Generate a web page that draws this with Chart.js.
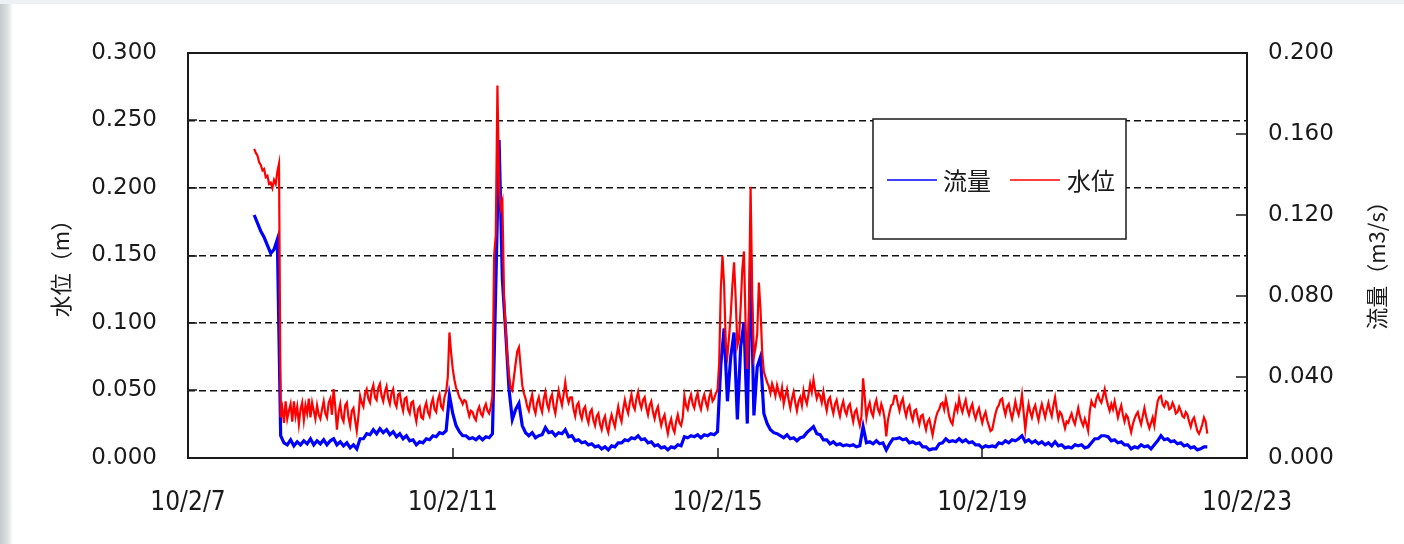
<!DOCTYPE html>
<html>
<head>
<meta charset="utf-8">
<script src="https://cdn.jsdelivr.net/npm/chart.js@4.4.1/dist/chart.umd.min.js"></script>
<style>
html, body { margin: 0; padding: 0; }
body { width: 1404px; height: 544px; overflow: hidden; background: #fff; position: relative; }
#edgeLeft { position: absolute; left: 0; top: 0; width: 13px; height: 544px; background: linear-gradient(to right, #c4c9c9, #dde1e1 60%, #fff); }
#edgeTop { position: absolute; left: 0; top: 0; width: 1404px; height: 4px; background: #edf1f4; }
canvas { position: absolute; left: 0; top: 0; }
</style>
</head>
<body>
<div id="edgeLeft"></div><div id="edgeTop"></div>
<canvas id="flowChart" width="1404" height="544"></canvas>
<script>
// 観測の開始日と間隔 (日単位)
const startDay = 8.0;
const levelStep = 0.025;  // 水位: 36分毎
const flowStep = 0.05;    // 流量: 72分毎

// 水位 (m) 10/2/8 0:00 〜 10/2/22 9:36
const waterLevel = [
  // 8日
  0.229, 0.226, 0.224, 0.219, 0.217, 0.213, 0.214, 0.208, 0.209, 0.203, 0.204, 0.200, 0.206, 0.203, 0.212, 0.218,
  0.030, 0.037, 0.026, 0.042, 0.029, 0.035, 0.040, 0.027, 0.042, 0.031, 0.038, 0.025, 0.036, 0.041, 0.028, 0.039, 0.033, 0.044, 0.030, 0.041, 0.035, 0.029, 0.039, 0.032,
  // 9日
  0.029, 0.036, 0.042, 0.033, 0.030, 0.041, 0.044, 0.032, 0.051, 0.038, 0.021, 0.034, 0.040, 0.030, 0.027, 0.039, 0.041, 0.030, 0.024, 0.035,
  0.037, 0.028, 0.020, 0.031, 0.046, 0.041, 0.038, 0.048, 0.051, 0.044, 0.041, 0.050, 0.054, 0.045, 0.043, 0.052, 0.055, 0.046, 0.042, 0.049,
  // 10日
  0.053, 0.044, 0.040, 0.048, 0.051, 0.041, 0.038, 0.047, 0.048, 0.040, 0.035, 0.044, 0.045, 0.036, 0.033, 0.041, 0.042, 0.033, 0.027, 0.036,
  0.038, 0.030, 0.029, 0.037, 0.041, 0.034, 0.031, 0.040, 0.044, 0.036, 0.034, 0.043, 0.047, 0.038, 0.036, 0.045, 0.049, 0.060, 0.093, 0.078,
  // 11日
  0.066, 0.058, 0.052, 0.049, 0.045, 0.043, 0.040, 0.043, 0.042, 0.036, 0.031, 0.035, 0.034, 0.030, 0.028, 0.035, 0.038, 0.033, 0.031, 0.037,
  0.040, 0.035, 0.033, 0.038, 0.046, 0.150, 0.165, 0.276, 0.200, 0.185, 0.190, 0.120, 0.095, 0.075, 0.062, 0.052, 0.050, 0.060, 0.070, 0.079,
  // 12日
  0.082, 0.068, 0.054, 0.048, 0.044, 0.038, 0.035, 0.042, 0.047, 0.037, 0.033, 0.041, 0.045, 0.038, 0.034, 0.044, 0.049, 0.040, 0.036, 0.044,
  0.047, 0.038, 0.033, 0.042, 0.050, 0.044, 0.039, 0.047, 0.056, 0.046, 0.041, 0.045, 0.045, 0.036, 0.031, 0.039, 0.041, 0.033, 0.029, 0.036,
  // 13日
  0.038, 0.030, 0.026, 0.034, 0.036, 0.028, 0.024, 0.031, 0.033, 0.025, 0.021, 0.028, 0.031, 0.023, 0.019, 0.027, 0.032, 0.027, 0.023, 0.031,
  0.038, 0.031, 0.027, 0.036, 0.043, 0.037, 0.033, 0.041, 0.047, 0.039, 0.036, 0.044, 0.049, 0.041, 0.037, 0.043, 0.045, 0.037, 0.032, 0.039,
  // 14日
  0.042, 0.034, 0.029, 0.035, 0.038, 0.030, 0.024, 0.029, 0.032, 0.024, 0.018, 0.025, 0.029, 0.022, 0.019, 0.027, 0.032, 0.026, 0.024, 0.030,
  0.046, 0.039, 0.036, 0.043, 0.047, 0.040, 0.037, 0.044, 0.048, 0.040, 0.036, 0.043, 0.047, 0.041, 0.037, 0.045, 0.049, 0.042, 0.044, 0.048,
  // 15日
  0.050, 0.070, 0.125, 0.150, 0.128, 0.085, 0.076, 0.090, 0.106, 0.128, 0.145, 0.118, 0.083, 0.088, 0.112, 0.140, 0.153, 0.098, 0.066, 0.110,
  0.201, 0.120, 0.075, 0.082, 0.092, 0.130, 0.110, 0.078, 0.064, 0.060, 0.056, 0.053, 0.048, 0.055, 0.051, 0.046, 0.054, 0.049, 0.045, 0.052,
  // 16日
  0.040, 0.046, 0.051, 0.043, 0.037, 0.044, 0.049, 0.041, 0.035, 0.042, 0.045, 0.039, 0.050, 0.044, 0.040, 0.047, 0.055, 0.049, 0.058, 0.050,
  0.044, 0.048, 0.046, 0.041, 0.049, 0.041, 0.035, 0.043, 0.045, 0.038, 0.033, 0.040, 0.043, 0.036, 0.031, 0.038, 0.042, 0.035, 0.032, 0.038,
  // 17日
  0.040, 0.033, 0.027, 0.034, 0.036, 0.029, 0.024, 0.031, 0.059, 0.045, 0.030, 0.037, 0.041, 0.034, 0.031, 0.039, 0.043, 0.036, 0.033, 0.040,
  0.036, 0.029, 0.016, 0.028, 0.034, 0.039, 0.040, 0.046, 0.046, 0.040, 0.035, 0.041, 0.044, 0.036, 0.031, 0.037, 0.039, 0.032, 0.028, 0.035,
  // 18日
  0.036, 0.030, 0.025, 0.031, 0.032, 0.026, 0.021, 0.027, 0.029, 0.023, 0.017, 0.024, 0.030, 0.034, 0.036, 0.040, 0.041, 0.036, 0.044, 0.038,
  0.031, 0.027, 0.025, 0.033, 0.039, 0.035, 0.044, 0.038, 0.034, 0.039, 0.043, 0.036, 0.032, 0.037, 0.040, 0.033, 0.029, 0.034, 0.037, 0.031,
  // 19日
  0.026, 0.031, 0.034, 0.028, 0.024, 0.020, 0.021, 0.027, 0.033, 0.037, 0.039, 0.043, 0.044, 0.037, 0.032, 0.038, 0.040, 0.034, 0.029, 0.035,
  0.042, 0.036, 0.032, 0.038, 0.047, 0.034, 0.021, 0.032, 0.040, 0.034, 0.030, 0.036, 0.039, 0.033, 0.028, 0.035, 0.040, 0.035, 0.030, 0.036,
  // 20日
  0.041, 0.035, 0.031, 0.039, 0.045, 0.036, 0.029, 0.034, 0.032, 0.027, 0.022, 0.027, 0.026, 0.030, 0.033, 0.028, 0.025, 0.031, 0.037, 0.031,
  0.027, 0.024, 0.029, 0.025, 0.020, 0.035, 0.042, 0.039, 0.038, 0.044, 0.047, 0.043, 0.041, 0.046, 0.051, 0.044, 0.039, 0.035, 0.040, 0.036,
  // 21日
  0.042, 0.036, 0.030, 0.035, 0.039, 0.032, 0.027, 0.032, 0.030, 0.024, 0.019, 0.025, 0.029, 0.032, 0.034, 0.029, 0.025, 0.031, 0.037, 0.031,
  0.026, 0.022, 0.026, 0.030, 0.024, 0.034, 0.042, 0.045, 0.046, 0.040, 0.038, 0.042, 0.041, 0.036, 0.037, 0.041, 0.038, 0.033, 0.034, 0.038,
  // 22日
  0.035, 0.031, 0.030, 0.034, 0.032, 0.027, 0.023, 0.028, 0.030, 0.025, 0.020, 0.018, 0.021, 0.025, 0.030, 0.027, 0.018
];

// 流量 (m3/s)
const flowRate = [
  // 8日
  0.120, 0.116, 0.112, 0.109, 0.105, 0.101, 0.103, 0.108, 0.011, 0.0075, 0.0065, 0.009, 0.006, 0.008, 0.0065, 0.0085, 0.007, 0.0095, 0.0065, 0.0085,
  // 9日
  0.007, 0.009, 0.0065, 0.0085, 0.0095, 0.0065, 0.008, 0.006, 0.0075, 0.005, 0.0065, 0.0045, 0.0095, 0.0095, 0.012, 0.0115, 0.014, 0.012, 0.0145, 0.0125,
  // 10日
  0.014, 0.0115, 0.013, 0.0105, 0.012, 0.0095, 0.011, 0.0085, 0.009, 0.0065, 0.008, 0.0075, 0.0095, 0.009, 0.011, 0.0105, 0.0125, 0.012, 0.0135, 0.031,
  // 11日
  0.022, 0.016, 0.013, 0.011, 0.011, 0.0095, 0.010, 0.009, 0.0105, 0.009, 0.0105, 0.010, 0.012, 0.085, 0.157, 0.088, 0.062, 0.034, 0.019, 0.024,
  // 12日
  0.027, 0.016, 0.0125, 0.011, 0.0125, 0.010, 0.011, 0.0115, 0.015, 0.0125, 0.013, 0.011, 0.0125, 0.012, 0.014, 0.0105, 0.011, 0.0085, 0.009, 0.0075,
  // 13日
  0.008, 0.0065, 0.007, 0.0055, 0.006, 0.0045, 0.0055, 0.004, 0.006, 0.0055, 0.0075, 0.0075, 0.009, 0.0085, 0.010, 0.0095, 0.011, 0.009, 0.0095, 0.0075,
  // 14日
  0.008, 0.006, 0.0065, 0.005, 0.0055, 0.004, 0.0055, 0.005, 0.0065, 0.006, 0.0105, 0.010, 0.011, 0.0105, 0.0115, 0.010, 0.0115, 0.011, 0.012, 0.0115,
  // 15日
  0.013, 0.046, 0.064, 0.028, 0.050, 0.062, 0.019, 0.055, 0.067, 0.017, 0.099, 0.021, 0.045, 0.050, 0.022, 0.017, 0.014, 0.0125, 0.012, 0.011,
  // 16日
  0.010, 0.0115, 0.0095, 0.010, 0.0085, 0.010, 0.0105, 0.0125, 0.014, 0.0155, 0.012, 0.0115, 0.009, 0.009, 0.007, 0.008, 0.0065, 0.007, 0.006, 0.0065,
  // 17日
  0.006, 0.0065, 0.0055, 0.006, 0.0155, 0.0075, 0.008, 0.007, 0.0085, 0.007, 0.0075, 0.004, 0.007, 0.0095, 0.0095, 0.010, 0.009, 0.0095, 0.0075, 0.008,
  // 18日
  0.007, 0.0075, 0.0055, 0.0055, 0.004, 0.0045, 0.0045, 0.007, 0.0075, 0.0095, 0.008, 0.0085, 0.008, 0.0095, 0.008, 0.009, 0.0075, 0.008, 0.0065, 0.0065,
  // 19日
  0.005, 0.006, 0.0055, 0.006, 0.0055, 0.0075, 0.007, 0.0085, 0.0075, 0.009, 0.0085, 0.0095, 0.011, 0.008, 0.009, 0.0075, 0.0085, 0.007, 0.008, 0.0065,
  // 20日
  0.0075, 0.006, 0.008, 0.006, 0.0065, 0.005, 0.0055, 0.005, 0.0065, 0.006, 0.0065, 0.005, 0.0055, 0.0075, 0.0095, 0.0095, 0.011, 0.011, 0.0105, 0.0085,
  // 21日
  0.009, 0.0075, 0.008, 0.0065, 0.0065, 0.0045, 0.0055, 0.005, 0.0065, 0.0055, 0.006, 0.0045, 0.0065, 0.0085, 0.011, 0.009, 0.0095, 0.008, 0.0085, 0.007,
  // 22日
  0.0075, 0.006, 0.0065, 0.005, 0.0055, 0.004, 0.0045, 0.0055, 0.0055
];

// 軸の目盛
const dayTicks = [7, 11, 15, 19, 23];
const levelTicks = [0, 0.05, 0.1, 0.15, 0.2, 0.25, 0.3];
const flowTicks = [0, 0.04, 0.08, 0.12, 0.16, 0.2];

const levelDays = waterLevel.map((_, i) => +(startDay + i * levelStep).toFixed(3));
const flowDays = flowRate.map((_, i) => +(startDay + i * flowStep).toFixed(3));

const labelFont = "'DejaVu Sans', sans-serif";
const dateFont = "'Liberation Sans Narrow', 'DejaVu Sans Condensed', sans-serif";
const jpFont = "'Noto Sans CJK JP', sans-serif";

// 枠・内向き目盛・軸タイトル・凡例
const framePlugin = {
  id: 'frame',
  afterDatasetsDraw(chart) {
    const { ctx, chartArea: a, scales } = chart;
    ctx.save();
    ctx.strokeStyle = '#1a1a1a';
    ctx.lineWidth = 1.5;
    ctx.beginPath();
    scales.y.ticks.forEach(t => {
      const py = Math.round(scales.y.getPixelForValue(t.value));
      ctx.moveTo(a.left, py); ctx.lineTo(a.left + 9, py);
    });
    scales.y1.ticks.forEach(t => {
      const py = Math.round(scales.y1.getPixelForValue(t.value));
      ctx.moveTo(a.right, py); ctx.lineTo(a.right - 11, py);
    });
    scales.x.ticks.forEach(t => {
      const px = Math.round(scales.x.getPixelForValue(t.value));
      ctx.moveTo(px, a.bottom); ctx.lineTo(px, a.bottom - 10);
    });
    ctx.stroke();
    ctx.lineWidth = 2;
    ctx.strokeRect(a.left, a.top, a.right - a.left, a.bottom - a.top);

    // 軸タイトル (どちらも下から上へ)
    ctx.fillStyle = '#1a1a1a';
    ctx.font = '22px ' + jpFont;
    ctx.textAlign = 'center';
    ctx.textBaseline = 'middle';
    [[61, 263, '水位（m）'], [1377, 260, '流量（m3/s）']].forEach(([x, y, s]) => {
      ctx.save();
      ctx.translate(x, y);
      ctx.rotate(-Math.PI / 2);
      ctx.fillText(s, 0, 0);
      ctx.restore();
    });

    // 凡例
    const box = { x: 873, y: 119, w: 253, h: 120 };
    ctx.fillStyle = '#fff';
    ctx.fillRect(box.x, box.y, box.w, box.h);
    ctx.lineWidth = 1.5;
    ctx.strokeRect(box.x, box.y, box.w, box.h);
    const cy = box.y + 61;
    const items = [[887, 943], [1010, 1067]];
    chart.data.datasets.forEach((ds, i) => {
      const [lx, tx] = items[i];
      ctx.strokeStyle = ds.borderColor;
      ctx.lineWidth = 1.5;
      ctx.beginPath();
      ctx.moveTo(lx, cy); ctx.lineTo(lx + 50, cy);
      ctx.stroke();
      ctx.fillStyle = '#1a1a1a';
      ctx.font = '24px ' + jpFont;
      ctx.textAlign = 'left';
      ctx.fillText(ds.label, tx, cy + 1);
    });
    ctx.restore();
  }
};

const ctx = document.getElementById('flowChart').getContext('2d');
new Chart(ctx, {
  type: 'line',
  data: {
    datasets: [{
      label: '流量',
      data: flowDays.map((d, i) => ({ x: d, y: flowRate[i] })),
      yAxisID: 'y1',
      borderColor: '#0000ff',
      borderWidth: 3.2,
      order: 2
    }, {
      label: '水位',
      data: levelDays.map((d, i) => ({ x: d, y: waterLevel[i] })),
      yAxisID: 'y',
      borderColor: '#ff0000',
      borderWidth: 2.2,
      order: 1
    }]
  },
  options: {
    responsive: false,
    animation: false,
    devicePixelRatio: 1,
    layout: { padding: { top: 53, left: 0, right: 0, bottom: 0 } },
    elements: { point: { radius: 0 }, line: { tension: 0 } },
    plugins: { legend: { display: false }, tooltip: { enabled: false } },
    scales: {
      x: {
        type: 'linear',
        min: 7, max: 23,
        afterBuildTicks: s => { s.ticks = dayTicks.map(v => ({ value: v })); },
        afterFit: s => { s.height = 86; },
        grid: { display: false, drawTicks: false },
        border: { display: false },
        ticks: {
          padding: 30,
          color: '#1a1a1a',
          font: { family: dateFont, size: 26 },
          callback: v => '10/2/' + v
        }
      },
      y: {
        position: 'left',
        min: 0, max: 0.3,
        afterBuildTicks: s => { s.ticks = levelTicks.map(v => ({ value: v })); },
        afterFit: s => { s.width = 188; },
        border: { display: false, dash: [7, 4] },
        grid: {
          drawTicks: false,
          color: c => (c.tick && c.tick.value > 0 && c.tick.value < 0.3) ? '#111' : 'rgba(0,0,0,0)',
          lineWidth: 1.6
        },
        ticks: {
          padding: 31,
          color: '#1a1a1a',
          font: { family: labelFont, size: 23 },
          callback: v => v.toFixed(3)
        }
      },
      y1: {
        position: 'right',
        min: 0, max: 0.2,
        afterBuildTicks: s => { s.ticks = flowTicks.map(v => ({ value: v })); },
        afterFit: s => { s.width = 157; },
        border: { display: false },
        grid: { drawOnChartArea: false, drawTicks: false },
        ticks: {
          padding: 21,
          color: '#1a1a1a',
          font: { family: labelFont, size: 23 },
          callback: v => v.toFixed(3)
        }
      }
    }
  },
  plugins: [framePlugin]
});
</script>
</body>
</html>
